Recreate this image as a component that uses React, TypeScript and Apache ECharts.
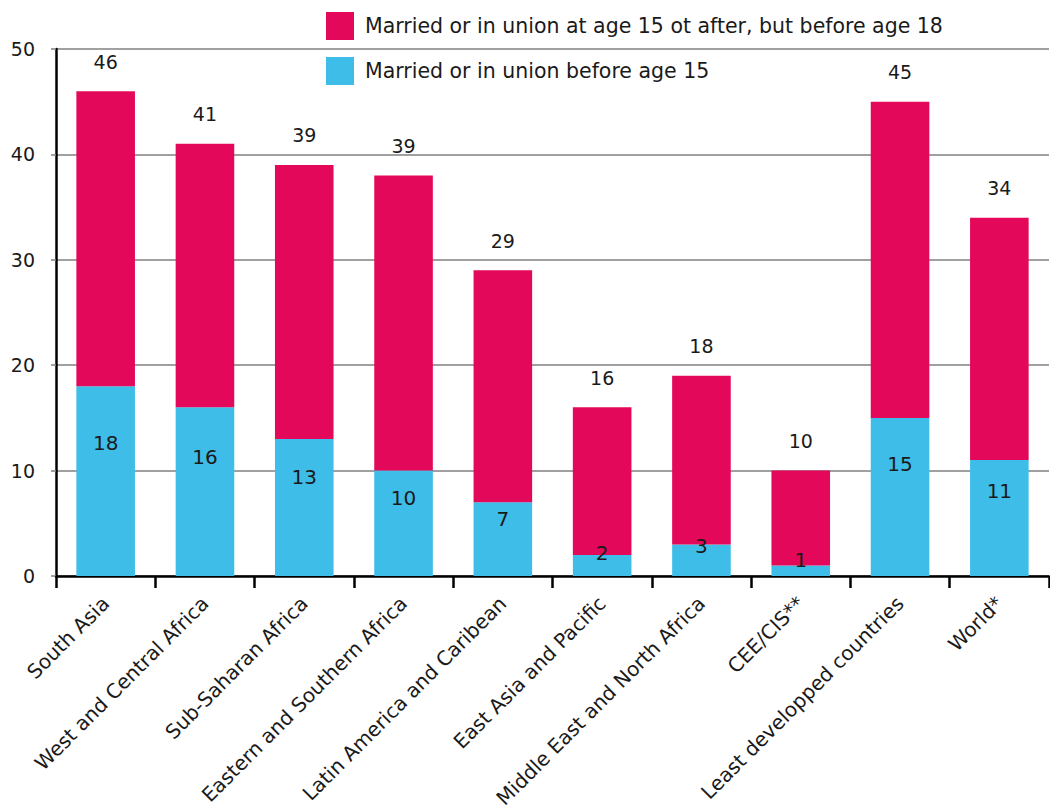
import React, { useEffect, useRef } from "react";
import * as echarts from "echarts";

const categories = [
  "South Asia",
  "West and Central Africa",
  "Sub-Saharan Africa",
  "Eastern and Southern Africa",
  "Latin America and Caribean",
  "East Asia and Pacific",
  "Middle East and North Africa",
  "CEE/CIS**",
  "Least developped countries",
  "World*",
];
const before15 = [18, 16, 13, 10, 7, 2, 3, 1, 15, 11];
const from15to18 = [28, 25, 26, 28, 22, 14, 16, 9, 30, 23];
const totalLabels = [46, 41, 39, 39, 29, 16, 18, 10, 45, 34];
const seriesNames = [
  "Married or in union at age 15 ot after, but before age 18",
  "Married or in union before age 15",
];
const yTicks = [0, 10, 20, 30, 40, 50];

const FONT = "DejaVu Sans";
const MAGENTA = "#E30859";
const BLUE = "#3EBDE8";
const TEXT = "#1a1a1a";

export default function App() {
  const ref = useRef<HTMLDivElement>(null);
  useEffect(() => {
    if (!ref.current) return;
    const chart = echarts.init(ref.current, null, { renderer: "svg" });
    const gridTop = 49;
    const gridBottom = 236;
    const plotH = 812 - gridTop - gridBottom;
    const yMax = yTicks[yTicks.length - 1];
    const pxPerUnit = plotH / yMax;
    chart.setOption({
      animation: false,
      backgroundColor: "#fff",
      textStyle: { fontFamily: FONT, color: TEXT },
      legend: {
        orient: "vertical",
        left: 326,
        top: 12,
        padding: 0,
        itemWidth: 28,
        itemHeight: 28,
        itemGap: 17,
        icon: "rect",
        data: seriesNames,
        textStyle: { fontSize: 20.5, color: TEXT, fontFamily: FONT, padding: [0, 0, 0, 6] },
      },
      grid: { left: 56, right: 1, top: gridTop, bottom: gridBottom, containLabel: false },
      xAxis: {
        type: "category",
        data: categories,
        axisLine: { lineStyle: { color: "#000", width: 2.5 } },
        axisTick: { show: true, length: 12, lineStyle: { color: "#000", width: 2.5 } },
        axisLabel: {
          rotate: 45,
          interval: 0,
          fontSize: 20,
          margin: 24,
          color: TEXT,
          fontFamily: FONT,
        },
      },
      yAxis: {
        type: "value",
        min: 0,
        max: yMax,
        interval: 10,
        axisLine: { show: true, lineStyle: { color: "#000", width: 2.5 } },
        axisTick: { show: true, length: 5, lineStyle: { color: "#808080", width: 1.5 } },
        splitLine: { lineStyle: { color: "#808080", width: 1.5 } },
        axisLabel: { fontSize: 19, margin: 21, color: TEXT, fontFamily: FONT },
      },
      series: [
        {
          name: seriesNames[1],
          type: "bar",
          stack: "total",
          barWidth: "59%",
          itemStyle: { color: BLUE },
          data: before15.map((v) => ({
            value: v,
            label: { offset: [0, -(0.15 * v + 0.9) * pxPerUnit] },
          })),
          label: {
            show: true,
            position: "inside",
            fontSize: 20,
            color: TEXT,
            fontFamily: FONT,
          },
        },
        {
          name: seriesNames[0],
          type: "bar",
          stack: "total",
          barWidth: "59%",
          itemStyle: { color: MAGENTA },
          data: from15to18,
          label: {
            show: true,
            position: "top",
            distance: 20,
            fontSize: 19,
            color: TEXT,
            fontFamily: FONT,
            formatter: (p: any) => String(totalLabels[p.dataIndex]),
          },
        },
      ],
    });
    return () => chart.dispose();
  }, []);
  return (
    <div
      ref={ref}
      style={{ position: "absolute", left: 0, top: 0, width: 1050, height: 812 }}
    />
  );
}
